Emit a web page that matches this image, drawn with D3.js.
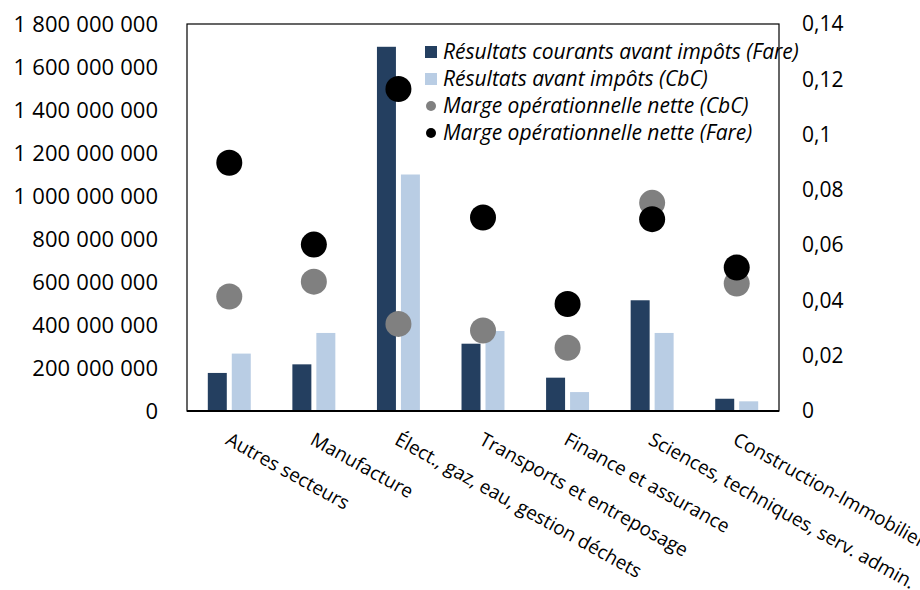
<!DOCTYPE html>
<html>
<head>
<meta charset="utf-8">
<script src="https://cdn.jsdelivr.net/npm/d3@7"></script>
<style>
  body { margin: 0; background: #fff; }
  svg text { font-family: "Open Sans", "Noto Sans", sans-serif; }
</style>
</head>
<body>
<svg id="chart"></svg>
<script>
var categories = ["Autres secteurs", "Manufacture", "Élect., gaz, eau, gestion déchets",
  "Transports et entreposage", "Finance et assurance",
  "Sciences, techniques, serv. admin.", "Construction-Immobilier"];

// bars, left axis (euros)
var resultatsFare = [177000000, 217000000, 1694000000, 313000000, 155000000, 515000000, 57000000];
var resultatsCbc = [267000000, 363000000, 1100000000, 372000000, 88000000, 363000000, 45000000];

// points, right axis
var margeCbc = [0.0414, 0.0468, 0.0315, 0.0291, 0.0229, 0.0753, 0.0461];
var margeFare = [0.0898, 0.0602, 0.1165, 0.0700, 0.0387, 0.0694, 0.0519];

var leftTicks = [0, 200000000, 400000000, 600000000, 800000000, 1000000000,
  1200000000, 1400000000, 1600000000, 1800000000];
var rightTicks = [0, 0.02, 0.04, 0.06, 0.08, 0.1, 0.12, 0.14];

var legendLabels = ["Résultats courants avant impôts (Fare)", "Résultats avant impôts (CbC)",
  "Marge opérationnelle nette (CbC)", "Marge opérationnelle nette (Fare)"];

var width = 920, height = 590;
var margin = { top: 24, right: 141, bottom: 179, left: 187 };

var colDark = "#243f60", colLight = "#b9cde4", colGray = "#808080", colBlack = "#000000";

var fr = d3.formatLocale({ decimal: ",", thousands: " ", grouping: [3], currency: ["", ""] });
var fmtLeft = fr.format(",");
var fmtRight = fr.format(".6~f");

var svg = d3.select("#chart")
  .attr("width", width)
  .attr("height", height);

var x = d3.scaleBand()
  .domain(categories)
  .range([margin.left, width - margin.right])
  .paddingInner(0)
  .paddingOuter(0);

var groupW = x.bandwidth() * 0.508;
var xSub = d3.scaleBand()
  .domain(["fare", "cbc"])
  .range([-groupW / 2, groupW / 2])
  .paddingInner(0.208);

var yLeft = d3.scaleLinear()
  .domain([0, 1800000000])
  .range([height - margin.bottom, margin.top]);

var yRight = d3.scaleLinear()
  .domain([0, 0.14])
  .range([height - margin.bottom, margin.top]);

// Left axis
var leftAxis = svg.append("g")
  .attr("transform", "translate(" + margin.left + ",0)")
  .call(d3.axisLeft(yLeft).tickValues(leftTicks).tickFormat(fmtLeft).tickSize(0).tickPadding(29));
leftAxis.select(".domain").remove();
leftAxis.selectAll("text")
  .style("font-family", "'Open Sans', sans-serif")
  .style("font-size", "22px")
  .style("word-spacing", "0.5px")
  .attr("fill", "#000");

// Right axis
var rightAxis = svg.append("g")
  .attr("transform", "translate(" + (width - margin.right) + ",0)")
  .call(d3.axisRight(yRight).tickValues(rightTicks).tickFormat(fmtRight).tickSize(0).tickPadding(23));
rightAxis.select(".domain").remove();
rightAxis.selectAll("text")
  .style("font-family", "'Open Sans', sans-serif")
  .style("font-size", "21px")
  .attr("fill", "#000");

// Bars
var barData = categories.map(function(c, i) {
  return [{ cat: c, key: "fare", v: resultatsFare[i] }, { cat: c, key: "cbc", v: resultatsCbc[i] }];
});

svg.append("g").selectAll("g")
  .data(barData)
  .enter()
  .append("g")
    .attr("transform", function(d) { return "translate(" + (x(d[0].cat) + x.bandwidth() / 2) + ",0)"; })
  .selectAll("rect")
  .data(function(d) { return d; })
  .enter()
  .append("rect")
    .attr("x", function(d) { return xSub(d.key); })
    .attr("width", xSub.bandwidth())
    .attr("y", function(d) { return yLeft(d.v); })
    .attr("height", function(d) { return yLeft(0) - yLeft(d.v); })
    .attr("fill", function(d) { return d.key == "fare" ? colDark : colLight; });

// Markers
svg.append("g").selectAll("circle")
  .data(margeCbc)
  .enter()
  .append("circle")
    .attr("cx", function(d, i) { return x(categories[i]) + x.bandwidth() / 2; })
    .attr("cy", function(d) { return yRight(d); })
    .attr("r", 13)
    .attr("fill", colGray);

svg.append("g").selectAll("circle")
  .data(margeFare)
  .enter()
  .append("circle")
    .attr("cx", function(d, i) { return x(categories[i]) + x.bandwidth() / 2; })
    .attr("cy", function(d) { return yRight(d); })
    .attr("r", 13)
    .attr("fill", colBlack);

// Plot frame
svg.append("rect")
  .attr("x", margin.left)
  .attr("y", margin.top)
  .attr("width", width - margin.left - margin.right)
  .attr("height", height - margin.top - margin.bottom)
  .attr("fill", "none")
  .attr("stroke", "#000")
  .attr("stroke-width", 1.2);

svg.append("line")
  .attr("x1", margin.left)
  .attr("x2", width - margin.right)
  .attr("y1", yLeft(0))
  .attr("y2", yLeft(0))
  .attr("stroke", "#000")
  .attr("stroke-width", 2.2);

// Category labels
svg.append("g").selectAll("text")
  .data(categories)
  .enter()
  .append("text")
    .attr("transform", function(d) {
      return "translate(" + (x(d) + x.bandwidth() / 2 + 2) + "," + 431 + ")rotate(29)";
    })
    .attr("dy", "0.75em")
    .style("font-size", "19px")
    .attr("fill", "#000")
    .text(function(d) { return d; });

// Legend
var legendX = 425, legendY = 52, legendStep = 27;
var legend = svg.append("g");

legend.append("rect")
  .attr("x", legendX).attr("y", legendY - 6)
  .attr("width", 12).attr("height", 12)
  .attr("fill", colDark);

legend.append("rect")
  .attr("x", legendX).attr("y", legendY + legendStep - 6)
  .attr("width", 12).attr("height", 12)
  .attr("fill", colLight);

legend.append("circle")
  .attr("cx", legendX + 6).attr("cy", legendY + legendStep * 2)
  .attr("r", 5)
  .attr("fill", colGray);

legend.append("circle")
  .attr("cx", legendX + 6).attr("cy", legendY + legendStep * 3)
  .attr("r", 5)
  .attr("fill", colBlack);

legend.selectAll("text")
  .data(legendLabels)
  .enter()
  .append("text")
    .attr("x", legendX + 18)
    .attr("y", function(d, i) { return legendY + legendStep * i; })
    .attr("dy", "0.35em")
    .style("font-size", "21px")
    .style("font-style", "italic")
    .attr("fill", "#000")
    .text(function(d) { return d; });
</script>
</body>
</html>
